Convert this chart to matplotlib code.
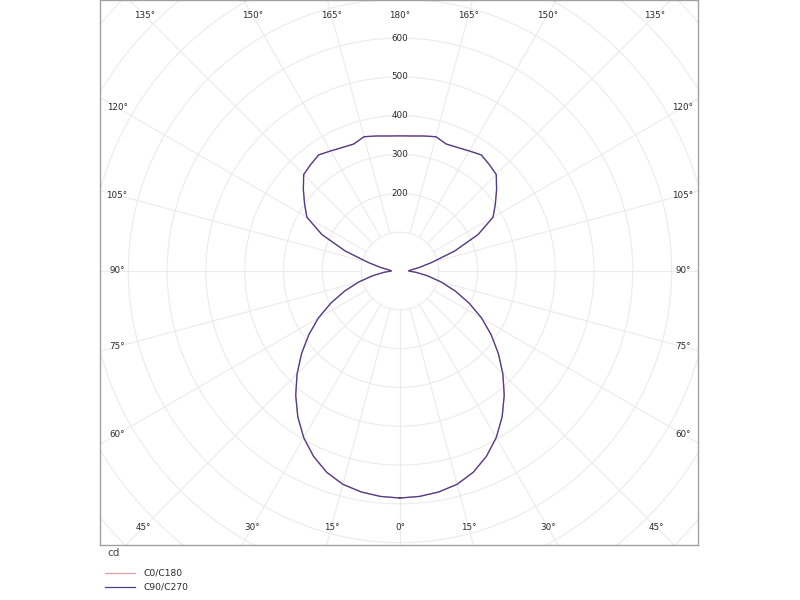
"""Polar luminous intensity diagram (cd) for C0/C180 and C90/C270 planes."""
import numpy as np
import matplotlib

matplotlib.use("Agg")
import matplotlib.pyplot as plt
from matplotlib.lines import Line2D

# gamma angle from nadir (deg) and intensity (cd)
gamma_deg = [0, 5, 10, 15, 20, 25, 30, 35, 40, 45, 50, 55, 60, 65, 70, 75, 80, 85, 90,
             95, 100, 105, 110, 115, 120, 125, 130, 135, 140, 145, 150, 155, 160, 165,
             170, 175, 180]
c0_c180 = [585, 583, 578, 569, 552, 527, 496, 459, 418, 375, 331, 287, 243, 197, 152,
           110, 72, 42, 22, 28, 50, 85, 150, 222, 277, 300, 325, 351, 358, 365, 357,
           351, 348, 358, 353, 349, 348]
c90_c270 = [585, 583, 578, 569, 552, 527, 496, 459, 418, 375, 331, 287, 243, 197, 152,
            110, 72, 42, 22, 28, 50, 85, 150, 222, 277, 300, 325, 351, 358, 365, 357,
            351, 348, 358, 353, 349, 348]

ring_values = list(range(100, 1200, 100))
ring_labels = [200, 300, 400, 500, 600]
spoke_angles = list(range(0, 180, 15))
label_angles = list(range(0, 181, 15))

GRID = "#ebebeb"
TEXT = "#2a2a2a"
COL_C0 = "#d9a0a8"
COL_C90 = "#4e3d8c"

fig = plt.figure(figsize=(8, 6), dpi=100)
ax = fig.add_axes([100 / 800, 55 / 600, 598 / 800, 545 / 600])
ax.set_xlim(-773, 768)
ax.set_ylim(-706, 698)
ax.set_xticks([])
ax.set_yticks([])
for sp in ax.spines.values():
    sp.set_color("#a0a0a0")
    sp.set_linewidth(1.0)

# rings
t = np.linspace(0, 2 * np.pi, 721)
for r in ring_values:
    ax.plot(r * np.cos(t), r * np.sin(t), color=GRID, lw=0.8, zorder=1)

# spokes (start at the first ring)
for g in spoke_angles:
    rad = np.radians(g)
    for side in (-1, 1):
        rr = np.array([ring_values[0], 1500])
        ax.plot(side * rr * np.sin(rad), -rr * np.cos(rad), color=GRID, lw=0.8, zorder=1)

# radial value labels along the upward axis
for r in ring_labels:
    ax.text(0, r, str(r), ha="center", va="center", fontsize=6.3, color=TEXT, zorder=3)

# angle labels where spokes meet an inset frame
xin, ytop, ybot = 729, 657, 660
for g in label_angles:
    rad = np.radians(g)
    sides = (1,) if g in (0, 180) else (-1, 1)
    for side in sides:
        dx, dy = side * np.sin(rad), -np.cos(rad)
        cands = []
        if abs(dx) > 1e-9:
            cands.append(xin / abs(dx))
        if dy > 1e-9:
            cands.append(ytop / dy)
        elif dy < -1e-9:
            cands.append(ybot / -dy)
        k = min(cands)
        ax.text(dx * k, dy * k, f"{g}°", ha="center", va="center",
                fontsize=6.3, color=TEXT, zorder=3)


def curve_xy(values):
    g = np.radians(gamma_deg)
    v = np.asarray(values, dtype=float)
    # left half then right half, continuous through 180
    xl, yl = -v * np.sin(g), -v * np.cos(g)
    xr, yr = v[::-1] * np.sin(g[::-1]), -v[::-1] * np.cos(g[::-1])
    return np.concatenate([xl, xr]), np.concatenate([yl, yr])


x0, y0 = curve_xy(c0_c180)
ax.plot(x0, y0, color=COL_C0, lw=1.0, zorder=4)
x9, y9 = curve_xy(c90_c270)
ax.plot(x9, y9, color=COL_C90, lw=0.9, zorder=5)

# unit and legend below the frame
fig.text(107 / 800, 1 - 553 / 600, "cd", fontsize=7.5, color="#444444",
         ha="left", va="center")
for i, (name, col) in enumerate([("C0/C180", COL_C0), ("C90/C270", COL_C90)]):
    yy = 1 - (573 + 13.5 * i) / 600
    fig.add_artist(Line2D([105 / 800, 135 / 800], [yy, yy], color=col, lw=0.9,
                          transform=fig.transFigure))
    fig.text(143 / 800, yy, name, fontsize=6.6, color=TEXT, ha="left", va="center")

fig.savefig("out.png", dpi=100)
plt.close(fig)
